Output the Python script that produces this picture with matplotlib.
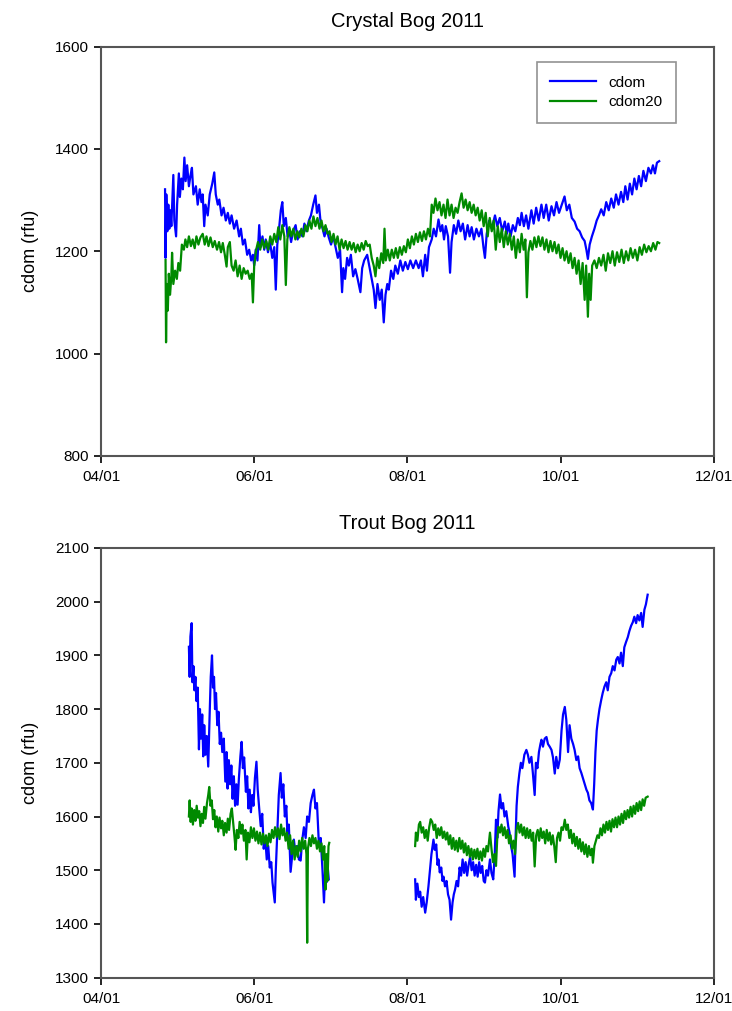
import matplotlib
matplotlib.use('Agg')
import matplotlib.pyplot as plt
import matplotlib.dates as mdates
import numpy as np
import pandas as pd

# days after 2011-04-01, cdom (rfu)
crystal_cdom = [
    (25.5, 1321), (25.7, 1187), (26.0, 1311), (26.4, 1239), (26.8, 1291), (27.2, 1244), (27.6, 1280), (28.0, 1249),
    (28.8, 1349), (29.2, 1260), (29.9, 1229), (30.3, 1291), (31.0, 1352), (31.4, 1306), (32.0, 1342), (32.6, 1321),
    (33.2, 1383), (33.7, 1337), (34.3, 1368), (35.0, 1327), (35.6, 1347), (36.2, 1363), (36.8, 1311), (37.8, 1327),
    (38.5, 1291), (39.3, 1321), (40.0, 1296), (40.5, 1311), (41.1, 1249), (41.6, 1291), (42.5, 1270), (43.3, 1311),
    (44.3, 1332), (45.1, 1354), (45.7, 1311), (46.5, 1291), (47.1, 1301), (48.0, 1270), (48.8, 1285), (49.7, 1260),
    (50.5, 1275), (51.3, 1254), (52.0, 1270), (53.0, 1244), (54.0, 1260), (55.0, 1229), (55.7, 1244), (56.5, 1213),
    (57.3, 1223), (58.2, 1193), (59.0, 1203), (59.8, 1182), (60.5, 1193), (61.0, 1172), (61.6, 1203), (62.3, 1182),
    (63.0, 1251), (63.5, 1208), (64.3, 1229), (65.0, 1203), (65.6, 1223), (66.5, 1198), (67.3, 1218), (68.2, 1187),
    (69.0, 1208), (69.6, 1125), (70.2, 1213), (71.0, 1249), (71.6, 1280), (72.2, 1296), (72.8, 1249), (73.6, 1265),
    (74.3, 1229), (74.9, 1244), (75.7, 1218), (76.5, 1239), (77.5, 1251), (78.3, 1223), (79.2, 1239), (80.2, 1229),
    (81.0, 1254), (81.8, 1239), (82.8, 1260), (83.6, 1270), (84.5, 1291), (85.4, 1309), (86.0, 1275), (86.8, 1291),
    (87.5, 1254), (88.1, 1247), (89.0, 1229), (89.8, 1244), (90.7, 1227), (91.6, 1213), (92.5, 1229), (93.4, 1208),
    (94.3, 1187), (95.2, 1203), (96.0, 1120), (96.5, 1167), (97.2, 1146), (98.0, 1187), (98.7, 1172), (99.5, 1193),
    (100.4, 1151), (101.3, 1165), (102.2, 1146), (103.3, 1120), (104.0, 1167), (104.8, 1182), (106.0, 1193), (106.8, 1172),
    (107.8, 1146), (108.6, 1125), (109.3, 1089), (110.1, 1136), (111.0, 1105), (111.8, 1125), (112.6, 1061), (113.3, 1115),
    (114.0, 1136), (114.6, 1125), (115.5, 1162), (116.4, 1146), (117.2, 1172), (118.2, 1156), (119.2, 1182), (120.2, 1162),
    (121.2, 1179), (122.2, 1165), (123.2, 1182), (124.3, 1167), (125.4, 1182), (126.5, 1167), (127.4, 1182), (128.2, 1151),
    (129.1, 1193), (129.8, 1162), (130.6, 1208), (131.7, 1223), (132.5, 1244), (133.4, 1229), (134.4, 1262), (135.2, 1239),
    (135.9, 1251), (136.6, 1223), (137.3, 1249), (138.2, 1229), (139.0, 1158), (139.6, 1218), (140.5, 1251), (141.4, 1234),
    (142.3, 1260), (143.2, 1239), (144.1, 1254), (145.0, 1223), (146.0, 1251), (146.8, 1229), (147.6, 1247), (148.5, 1223),
    (149.5, 1244), (150.5, 1229), (151.5, 1244), (152.3, 1208), (152.9, 1187), (153.6, 1234), (154.6, 1260), (155.6, 1244),
    (156.9, 1270), (157.8, 1249), (158.8, 1265), (159.8, 1239), (160.8, 1258), (161.6, 1234), (162.2, 1254), (163.1, 1229),
    (164.0, 1251), (165.0, 1239), (166.0, 1265), (166.8, 1251), (167.5, 1275), (168.4, 1249), (169.3, 1270), (170.2, 1244),
    (171.4, 1280), (172.3, 1254), (173.3, 1285), (174.3, 1260), (175.4, 1291), (176.3, 1265), (177.3, 1291), (178.3, 1260),
    (179.4, 1288), (180.4, 1270), (181.4, 1296), (182.4, 1275), (183.5, 1291), (184.6, 1307), (185.5, 1280), (186.5, 1291),
    (187.5, 1265), (188.6, 1258), (189.6, 1244), (190.6, 1239), (191.6, 1227), (192.6, 1220), (193.3, 1203), (193.9, 1185),
    (194.6, 1213), (195.5, 1229), (196.5, 1244), (197.4, 1260), (198.3, 1270), (199.2, 1282), (200.2, 1270), (201.2, 1296),
    (202.2, 1280), (203.2, 1303), (204.2, 1285), (205.1, 1311), (206.1, 1291), (207.1, 1316), (208.0, 1296), (208.8, 1327),
    (209.7, 1301), (210.6, 1332), (211.5, 1311), (212.4, 1342), (213.3, 1321), (214.2, 1347), (215.1, 1327), (216.0, 1357),
    (217.0, 1337), (218.0, 1363), (219.0, 1352), (219.8, 1368), (220.6, 1352), (221.4, 1373), (222.3, 1376),
]

crystal_cdom20 = [
    (25.7, 1183), (25.9, 1022), (26.2, 1136), (26.6, 1084), (27.0, 1156), (27.5, 1115), (28.0, 1151), (28.3, 1197),
    (28.8, 1136), (29.5, 1162), (30.2, 1146), (30.8, 1177), (31.5, 1162), (32.2, 1213), (33.0, 1203), (33.6, 1223),
    (34.3, 1208), (35.0, 1229), (35.8, 1210), (36.5, 1223), (37.3, 1206), (38.0, 1229), (38.8, 1213), (39.6, 1227),
    (40.5, 1234), (41.3, 1213), (42.0, 1229), (42.8, 1210), (43.6, 1227), (44.5, 1208), (45.3, 1220), (46.2, 1203),
    (47.0, 1218), (47.8, 1198), (48.5, 1216), (49.3, 1193), (50.0, 1170), (50.5, 1208), (51.3, 1218), (52.0, 1172),
    (52.8, 1162), (53.6, 1182), (54.4, 1151), (55.2, 1172), (56.0, 1146), (56.8, 1167), (57.6, 1156), (58.4, 1162),
    (59.2, 1146), (60.0, 1156), (60.5, 1100), (61.0, 1172), (61.8, 1203), (62.5, 1218), (63.4, 1203), (64.2, 1223),
    (65.0, 1206), (65.8, 1220), (66.6, 1203), (67.4, 1229), (68.2, 1213), (69.0, 1234), (69.8, 1218), (70.6, 1247),
    (71.4, 1223), (72.2, 1251), (73.0, 1229), (73.6, 1134), (74.2, 1223), (75.0, 1247), (75.8, 1229), (76.6, 1244),
    (77.4, 1223), (78.2, 1239), (79.0, 1227), (79.8, 1244), (80.6, 1229), (81.4, 1251), (82.2, 1239), (83.0, 1260),
    (83.8, 1244), (84.6, 1268), (85.4, 1249), (86.2, 1265), (87.0, 1244), (87.8, 1260), (88.6, 1239), (89.4, 1251),
    (90.2, 1234), (91.0, 1239), (91.8, 1218), (92.6, 1234), (93.4, 1213), (94.2, 1229), (95.0, 1203), (95.8, 1223),
    (96.6, 1206), (97.4, 1220), (98.2, 1203), (99.0, 1218), (99.8, 1203), (100.6, 1216), (101.4, 1198), (102.2, 1213),
    (103.0, 1200), (103.8, 1216), (104.6, 1203), (105.4, 1220), (106.2, 1210), (107.0, 1213), (107.8, 1187), (108.6, 1172),
    (109.3, 1151), (110.0, 1187), (110.8, 1167), (111.6, 1196), (112.4, 1177), (112.9, 1244), (113.4, 1182), (114.2, 1203),
    (115.0, 1182), (115.8, 1203), (116.6, 1187), (117.4, 1206), (118.2, 1187), (119.0, 1208), (119.8, 1193), (120.6, 1210),
    (121.4, 1198), (122.2, 1223), (123.0, 1206), (123.8, 1229), (124.6, 1213), (125.4, 1234), (126.2, 1218), (127.0, 1237),
    (127.8, 1220), (128.6, 1239), (129.4, 1223), (130.2, 1244), (131.0, 1229), (131.7, 1291), (132.4, 1275), (133.2, 1303),
    (134.0, 1280), (134.8, 1296), (135.6, 1270), (136.4, 1291), (137.2, 1265), (138.0, 1301), (138.8, 1270), (139.6, 1291),
    (140.4, 1265), (141.2, 1285), (142.0, 1275), (142.8, 1296), (143.6, 1313), (144.4, 1285), (145.2, 1301), (146.0, 1280),
    (146.8, 1296), (147.6, 1275), (148.4, 1291), (149.2, 1270), (150.0, 1285), (150.8, 1260), (151.6, 1280), (152.4, 1249),
    (153.2, 1275), (154.0, 1229), (154.8, 1265), (155.6, 1239), (156.4, 1260), (157.2, 1203), (158.0, 1249), (158.8, 1218),
    (159.6, 1244), (160.4, 1208), (161.2, 1239), (162.0, 1213), (162.8, 1234), (163.6, 1203), (164.4, 1229), (165.2, 1187),
    (166.0, 1223), (166.8, 1198), (167.5, 1234), (168.3, 1203), (169.0, 1223), (169.6, 1110), (170.2, 1198), (171.0, 1220),
    (171.8, 1203), (172.6, 1227), (173.4, 1208), (174.2, 1229), (175.0, 1210), (175.8, 1227), (176.6, 1203), (177.4, 1223),
    (178.2, 1198), (179.0, 1220), (179.8, 1200), (180.6, 1218), (181.4, 1196), (182.2, 1213), (183.0, 1187), (183.8, 1206),
    (184.6, 1182), (185.4, 1200), (186.2, 1177), (187.0, 1196), (187.8, 1167), (188.6, 1187), (189.4, 1156), (190.2, 1182),
    (191.0, 1136), (191.8, 1177), (192.6, 1105), (193.2, 1172), (193.9, 1072), (194.4, 1156), (195.0, 1105), (195.6, 1172),
    (196.5, 1182), (197.4, 1167), (198.3, 1187), (199.2, 1172), (200.1, 1193), (201.0, 1162), (201.9, 1196), (202.8, 1177),
    (203.7, 1200), (204.6, 1172), (205.5, 1198), (206.4, 1179), (207.3, 1203), (208.2, 1177), (209.1, 1200), (210.0, 1182),
    (210.9, 1206), (211.8, 1187), (212.7, 1203), (213.6, 1182), (214.5, 1208), (215.4, 1193), (216.3, 1213), (217.2, 1198),
    (218.1, 1210), (219.0, 1200), (219.9, 1216), (220.8, 1203), (221.6, 1218), (222.3, 1216),
]

# Trout Bog: two deployments with a gap in July
trout_cdom_a = [
    (35.0, 1916), (35.3, 1860), (35.6, 1935), (36.1, 1960), (36.4, 1850), (36.8, 1880), (37.2, 1835), (37.6, 1860),
    (38.0, 1815), (38.5, 1840), (39.0, 1725), (39.4, 1800), (39.8, 1745), (40.3, 1790), (40.7, 1712), (41.1, 1770),
    (41.6, 1715), (42.1, 1750), (42.7, 1693), (43.2, 1780), (43.7, 1860), (44.2, 1900), (44.6, 1840), (45.0, 1860),
    (45.4, 1800), (45.8, 1830), (46.3, 1770), (46.8, 1795), (47.3, 1735), (47.8, 1756), (48.3, 1720), (48.9, 1745),
    (49.5, 1665), (50.0, 1720), (50.4, 1652), (50.9, 1705), (51.4, 1660), (51.9, 1695), (52.4, 1633), (52.9, 1675),
    (53.4, 1620), (53.9, 1660), (54.4, 1622), (54.9, 1670), (55.5, 1712), (56.0, 1739), (56.5, 1690), (57.0, 1710),
    (57.7, 1646), (58.2, 1675), (58.7, 1615), (59.2, 1650), (59.7, 1608), (60.2, 1640), (60.7, 1620), (61.3, 1672),
    (61.9, 1702), (62.4, 1650), (63.0, 1615), (63.6, 1582), (64.2, 1605), (64.8, 1540), (65.4, 1560), (66.0, 1520),
    (66.6, 1545), (67.2, 1505), (67.8, 1515), (68.3, 1477), (69.2, 1440), (69.6, 1500), (70.2, 1570), (70.8, 1640),
    (71.5, 1681), (72.0, 1635), (72.6, 1660), (73.2, 1600), (73.8, 1620), (74.2, 1570), (74.8, 1585), (75.5, 1497),
    (76.2, 1530), (76.8, 1557), (77.5, 1530), (78.2, 1545), (78.8, 1520), (79.5, 1518), (80.1, 1555), (80.8, 1580),
    (81.5, 1560), (82.1, 1600), (82.8, 1590), (83.5, 1625), (84.2, 1640), (84.8, 1650), (85.4, 1615), (86.0, 1625),
    (86.8, 1545), (87.5, 1560), (88.2, 1500), (88.8, 1440), (89.4, 1520), (89.9, 1478), (90.3, 1505), (90.7, 1483),
]

trout_cdom20_a = [
    (35.0, 1600), (35.3, 1630), (35.7, 1590), (36.1, 1615), (36.6, 1585), (37.1, 1612), (37.6, 1592), (38.1, 1620),
    (38.6, 1598), (39.1, 1610), (39.6, 1582), (40.1, 1605), (40.6, 1588), (41.1, 1618), (41.6, 1596), (42.2, 1625),
    (42.7, 1640), (43.1, 1655), (43.6, 1620), (44.1, 1630), (44.6, 1595), (45.1, 1612), (45.6, 1580), (46.1, 1600),
    (46.7, 1572), (47.2, 1598), (47.8, 1578), (48.3, 1592), (48.9, 1565), (49.4, 1588), (50.0, 1570), (50.5, 1596),
    (51.0, 1575), (51.6, 1605), (52.1, 1615), (52.7, 1585), (53.2, 1560), (53.6, 1538), (54.1, 1575), (54.7, 1560),
    (55.2, 1590), (55.8, 1568), (56.3, 1585), (56.9, 1555), (57.5, 1575), (58.0, 1520), (58.5, 1570), (59.1, 1552),
    (59.7, 1580), (60.3, 1560), (60.9, 1578), (61.5, 1555), (62.1, 1572), (62.7, 1550), (63.3, 1570), (63.9, 1548),
    (64.5, 1568), (65.1, 1550), (65.7, 1565), (66.3, 1545), (66.9, 1568), (67.5, 1552), (68.1, 1575), (68.7, 1560),
    (69.3, 1580), (69.9, 1562), (70.5, 1578), (71.1, 1558), (71.7, 1585), (72.3, 1565), (72.9, 1578), (73.5, 1555),
    (74.1, 1570), (74.7, 1540), (75.3, 1565), (75.9, 1530), (76.5, 1555), (77.1, 1520), (77.7, 1545), (78.3, 1525),
    (78.9, 1555), (79.5, 1535), (80.1, 1560), (80.7, 1540), (81.3, 1555), (81.8, 1530), (82.1, 1365), (82.4, 1540),
    (83.0, 1560), (83.6, 1545), (84.2, 1565), (84.8, 1550), (85.4, 1560), (86.0, 1540), (86.6, 1555), (87.2, 1535),
    (87.8, 1550), (88.4, 1520), (88.9, 1545), (89.4, 1464), (89.8, 1530), (90.2, 1480), (90.6, 1545), (90.9, 1551),
]

trout_cdom_b = [
    (125.1, 1483), (125.4, 1445), (126.0, 1475), (126.6, 1450), (127.1, 1460), (127.7, 1432), (128.3, 1450), (129.1, 1421),
    (129.7, 1440), (130.4, 1470), (131.0, 1500), (131.6, 1530), (132.4, 1557), (132.9, 1538), (133.5, 1548), (134.0, 1510),
    (134.4, 1520), (134.9, 1496), (135.5, 1505), (136.0, 1480), (136.4, 1488), (137.0, 1470), (137.6, 1480), (138.2, 1455),
    (138.8, 1445), (139.4, 1408), (140.0, 1440), (140.5, 1455), (141.0, 1464), (141.6, 1480), (142.2, 1470), (142.8, 1505),
    (143.4, 1490), (144.0, 1520), (144.6, 1495), (145.2, 1515), (145.8, 1490), (146.4, 1510), (147.0, 1525), (147.6, 1500),
    (148.2, 1515), (148.8, 1490), (149.4, 1510), (150.0, 1488), (150.6, 1515), (151.2, 1495), (151.8, 1508), (152.4, 1480),
    (152.9, 1477), (153.5, 1500), (154.1, 1490), (154.9, 1520), (155.5, 1495), (156.2, 1483), (156.8, 1530), (157.3, 1594),
    (157.8, 1560), (158.3, 1610), (158.9, 1641), (159.5, 1615), (160.1, 1625), (160.7, 1600), (161.4, 1610), (162.2, 1581),
    (162.7, 1570), (163.3, 1545), (163.9, 1530), (164.4, 1505), (164.7, 1488), (165.1, 1560), (165.5, 1620), (166.0, 1655),
    (166.6, 1680), (167.2, 1700), (167.8, 1690), (168.6, 1715), (169.4, 1724), (170.0, 1715), (170.6, 1700), (171.4, 1711),
    (172.0, 1680), (172.7, 1640), (173.2, 1700), (173.8, 1690), (174.4, 1720), (175.0, 1735), (175.4, 1743), (176.0, 1730),
    (176.7, 1745), (177.4, 1748), (178.0, 1735), (178.7, 1730), (179.4, 1724), (180.0, 1710), (180.7, 1680), (181.3, 1711),
    (182.0, 1690), (182.7, 1706), (183.4, 1760), (184.0, 1790), (184.7, 1804), (185.3, 1780), (186.0, 1720), (186.6, 1770),
    (187.3, 1745), (188.0, 1735), (188.6, 1724), (189.3, 1705), (190.0, 1712), (190.6, 1690), (191.3, 1681), (192.0, 1670),
    (192.6, 1660), (193.3, 1650), (193.9, 1644), (194.5, 1630), (195.2, 1625), (195.9, 1613), (196.4, 1660), (196.9, 1720),
    (197.4, 1760), (197.9, 1780), (198.5, 1800), (199.2, 1817), (199.8, 1830), (200.5, 1842), (201.2, 1850), (201.8, 1835),
    (202.5, 1860), (203.2, 1867), (203.8, 1880), (204.5, 1872), (205.2, 1892), (205.8, 1897), (206.5, 1885), (207.1, 1905),
    (207.8, 1880), (208.4, 1915), (209.1, 1925), (209.8, 1934), (210.4, 1945), (211.1, 1955), (211.8, 1962), (212.4, 1972),
    (213.1, 1960), (213.7, 1975), (214.4, 1965), (215.1, 1979), (215.7, 1953), (216.4, 1985), (217.0, 1995), (217.7, 2013),
]

trout_cdom20_b = [
    (125.1, 1545), (125.4, 1570), (126.0, 1555), (126.6, 1585), (127.1, 1590), (127.7, 1570), (128.3, 1580), (128.9, 1560),
    (129.5, 1575), (130.1, 1555), (130.7, 1580), (131.3, 1595), (131.9, 1590), (132.5, 1575), (133.1, 1585), (133.7, 1560),
    (134.3, 1578), (134.9, 1565), (135.5, 1580), (136.1, 1560), (136.7, 1572), (137.3, 1557), (137.9, 1570), (138.5, 1548),
    (139.1, 1565), (139.7, 1540), (140.3, 1560), (140.9, 1538), (141.5, 1555), (142.1, 1535), (142.7, 1560), (143.3, 1540),
    (143.9, 1555), (144.5, 1533), (145.1, 1550), (145.7, 1528), (146.3, 1545), (146.9, 1525), (147.5, 1540), (148.1, 1520),
    (148.7, 1538), (149.3, 1522), (149.9, 1540), (150.5, 1520), (151.1, 1535), (151.7, 1518), (152.3, 1540), (152.9, 1525),
    (153.5, 1545), (154.1, 1535), (154.9, 1570), (155.5, 1540), (156.1, 1515), (156.7, 1530), (157.3, 1508), (157.8, 1560),
    (158.3, 1581), (158.9, 1570), (159.5, 1585), (160.1, 1565), (160.7, 1580), (161.3, 1560), (161.9, 1575), (162.5, 1550),
    (163.1, 1565), (163.7, 1540), (164.3, 1555), (164.9, 1530), (165.5, 1575), (166.1, 1588), (166.7, 1570), (167.3, 1585),
    (167.9, 1565), (168.5, 1580), (169.1, 1560), (169.7, 1578), (170.3, 1560), (170.9, 1575), (171.5, 1555), (172.1, 1570),
    (172.7, 1507), (173.3, 1565), (173.9, 1575), (174.5, 1555), (175.1, 1578), (175.7, 1560), (176.3, 1572), (176.9, 1550),
    (177.5, 1575), (178.1, 1555), (178.7, 1570), (179.3, 1548), (179.9, 1565), (180.5, 1545), (181.1, 1515), (181.6, 1560),
    (182.2, 1570), (182.8, 1555), (183.4, 1580), (184.0, 1575), (184.7, 1594), (185.3, 1575), (185.9, 1585), (186.5, 1560),
    (187.1, 1575), (187.7, 1550), (188.3, 1568), (188.9, 1545), (189.5, 1562), (190.1, 1540), (190.7, 1558), (191.3, 1535),
    (191.9, 1552), (192.5, 1530), (193.1, 1548), (193.7, 1525), (194.3, 1545), (194.9, 1528), (195.5, 1540), (195.9, 1514),
    (196.5, 1545), (197.1, 1555), (197.7, 1565), (198.3, 1560), (198.9, 1578), (199.5, 1565), (200.1, 1585), (200.7, 1570),
    (201.3, 1590), (201.9, 1575), (202.5, 1592), (203.1, 1572), (203.7, 1595), (204.3, 1580), (204.9, 1598), (205.5, 1580),
    (206.1, 1600), (206.7, 1585), (207.3, 1605), (207.9, 1588), (208.5, 1610), (209.1, 1595), (209.7, 1612), (210.3, 1598),
    (210.9, 1618), (211.5, 1600), (212.1, 1620), (212.7, 1605), (213.3, 1625), (213.9, 1610), (214.5, 1628), (215.1, 1612),
    (215.7, 1632), (216.3, 1620), (216.9, 1635), (217.7, 1637),
]

titles = ['Crystal Bog 2011', 'Trout Bog 2011']
ylims = [(800, 1600), (1300, 2100)]
ysteps = [200, 100]

start = pd.Timestamp('2011-04-01')
BLUE = '#0000ff'
GREEN = '#008a00'


def to_xy(pairs):
    arr = np.array(pairs, dtype=float)
    t = start + pd.to_timedelta(arr[:, 0], unit='D')
    return t, arr[:, 1]


plt.rcParams['font.family'] = ['Liberation Sans', 'DejaVu Sans']
plt.rcParams['font.size'] = 11

fig = plt.figure(figsize=(7.32, 10.11), dpi=100)
ax1 = fig.add_axes([0.138, 0.549, 0.837, 0.405])
ax2 = fig.add_axes([0.138, 0.033, 0.837, 0.425])

series = [
    [(crystal_cdom, BLUE, 'cdom'), (crystal_cdom20, GREEN, 'cdom20')],
    [(trout_cdom_a, BLUE, 'cdom'), (trout_cdom20_a, GREEN, 'cdom20'),
     (trout_cdom_b, BLUE, None), (trout_cdom20_b, GREEN, None)],
]

for ax, title, ylim, step, group in zip([ax1, ax2], titles, ylims, ysteps, series):
    for pairs, color, label in group:
        t, v = to_xy(pairs)
        ax.plot(t, v, color=color, lw=1.6, label=label)

    ax.set_xlim(pd.Timestamp('2011-04-01'), pd.Timestamp('2011-12-01'))
    ax.set_ylim(*ylim)
    ax.set_yticks(np.arange(ylim[0], ylim[1] + 1, step))
    ax.xaxis.set_major_locator(mdates.MonthLocator(bymonth=[4, 6, 8, 10, 12]))
    ax.xaxis.set_major_formatter(mdates.DateFormatter('%m/%d'))
    ax.tick_params(direction='out', length=5, width=1.2, labelsize=11, colors='black')
    ax.tick_params(axis='x', pad=5)
    for sp in ax.spines.values():
        sp.set_linewidth(1.5)
        sp.set_color('#555555')
    ax.set_title(title, fontsize=14.5, pad=14)
    ax.set_ylabel('cdom (rfu)', fontsize=13, labelpad=12)

leg = ax1.legend(loc='upper left', bbox_to_anchor=(0.711, 0.962), fancybox=False,
                 edgecolor='#777777', fontsize=11, handlelength=3.0,
                 borderpad=0.9, labelspacing=0.35, borderaxespad=0)
leg.get_frame().set_linewidth(1.2)

fig.savefig('out.png', dpi=100)
